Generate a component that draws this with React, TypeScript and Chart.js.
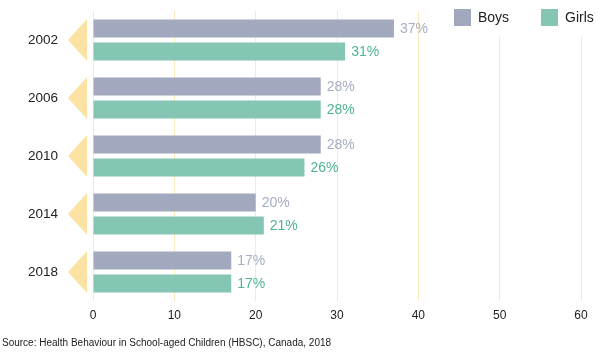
import React, { useEffect, useRef } from "react";
import { Chart, registerables } from "chart.js";

Chart.register(...registerables);

const years = ["2002", "2006", "2010", "2014", "2018"];
const boys = [37, 28, 28, 20, 17];
const girls = [31, 28, 26, 21, 17];
const xTicks = [0, 10, 20, 30, 40, 50, 60];
const seriesNames = ["Boys", "Girls"];
const source = "Source: Health Behaviour in School-aged Children (HBSC), Canada, 2018";

const BOYS_COLOR = "#a2a9bf";
const GIRLS_COLOR = "#85c5b4";
const BOYS_LABEL = "#a7adc2";
const GIRLS_LABEL = "#4fb491";
const GRID = "#fbeabb";
const TRI = "#fde3a3";
const FONT = "'Liberation Sans', Arial, Helvetica, sans-serif";

const decorPlugin = {
  id: "decor",
  beforeDatasetsDraw(chart: any) {
    const { ctx, chartArea } = chart;
    const y = chart.scales.y;
    ctx.save();
    ctx.fillStyle = TRI;
    years.forEach((_, i) => {
      const cy = y.getPixelForValue(i);
      const right = chartArea.left - 6;
      ctx.beginPath();
      ctx.moveTo(right, cy - 21);
      ctx.lineTo(right, cy + 21);
      ctx.lineTo(right - 19, cy);
      ctx.closePath();
      ctx.fill();
    });
    ctx.restore();
  },
  afterDatasetsDraw(chart: any) {
    const { ctx } = chart;
    ctx.save();
    ctx.font = `14px ${FONT}`;
    ctx.textBaseline = "middle";
    ctx.textAlign = "left";
    chart.data.datasets.forEach((ds: any, di: number) => {
      const meta = chart.getDatasetMeta(di);
      ctx.fillStyle = di === 0 ? BOYS_LABEL : GIRLS_LABEL;
      meta.data.forEach((bar: any, i: number) => {
        ctx.fillText(`${ds.data[i]}%`, bar.x + 6, bar.y + 1);
      });
    });
    // legend with white background
    ctx.fillStyle = "#ffffff";
    ctx.fillRect(446, 0, 154, 36);
    const items = [
      { x: 454, color: BOYS_COLOR, label: seriesNames[0] },
      { x: 541, color: GIRLS_COLOR, label: seriesNames[1] },
    ];
    items.forEach((it) => {
      ctx.fillStyle = it.color;
      ctx.fillRect(it.x, 9, 17, 17);
      ctx.fillStyle = "#222";
      ctx.fillText(it.label, it.x + 24, 18);
    });
    ctx.restore();
  },
};

export default function App() {
  const ref = useRef<HTMLCanvasElement>(null);
  useEffect(() => {
    document.body.style.margin = "0";
    const chart = new Chart(ref.current as HTMLCanvasElement, {
      type: "bar",
      data: {
        labels: years,
        datasets: [
          { label: seriesNames[0], data: boys, backgroundColor: BOYS_COLOR },
          { label: seriesNames[1], data: girls, backgroundColor: GIRLS_COLOR },
        ],
      },
      options: {
        indexAxis: "y",
        animation: false,
        responsive: false,
        maintainAspectRatio: false,
        categoryPercentage: 0.79,
        barPercentage: 0.78,
        layout: { padding: { top: 11, right: 19, bottom: 30, left: 0 } },
        plugins: {
          legend: { display: false },
          tooltip: { enabled: false },
        },
        scales: {
          x: {
            min: 0,
            max: 60,
            afterBuildTicks(scale: any) {
              scale.ticks = xTicks.map((v) => ({ value: v }));
            },
            afterFit(scale: any) {
              scale.height = 21;
            },
            grid: { color: GRID, lineWidth: 1, drawTicks: false },
            border: { display: false },
            ticks: { padding: 7, color: "#222", font: { family: FONT, size: 12 } },
          },
          y: {
            afterFit(scale: any) {
              scale.width = 93;
              scale.paddingTop = 0;
              scale.paddingBottom = 0;
            },
            grid: { display: false },
            border: { display: false },
            ticks: { padding: 27, color: "#222", font: { family: FONT, size: 13.5 } },
          },
        },
      },
      plugins: [decorPlugin],
    });
    return () => chart.destroy();
  }, []);
  return (
    <div style={{ position: "relative", width: 600, height: 352 }}>
      <canvas ref={ref} width={600} height={352} style={{ display: "block" }} />
      <div
        style={{
          position: "absolute",
          left: 2,
          top: 337,
          fontFamily: FONT,
          fontSize: 10,
          color: "#222",
          whiteSpace: "nowrap",
        }}
      >
        {source}
      </div>
    </div>
  );
}
